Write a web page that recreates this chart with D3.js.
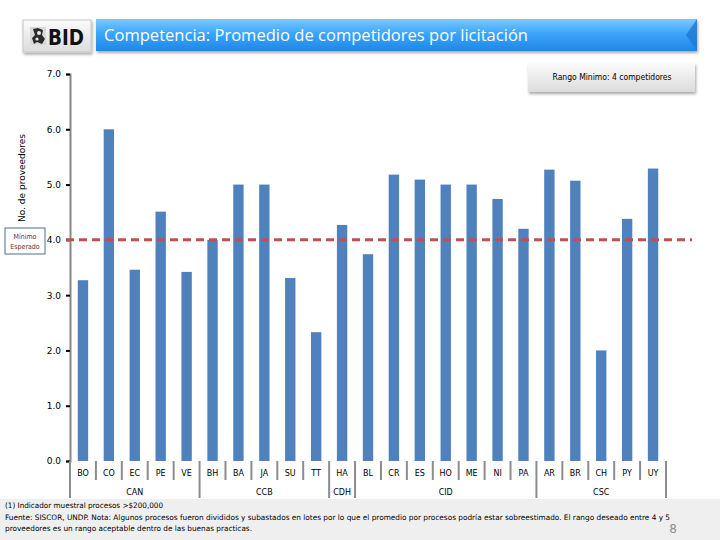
<!DOCTYPE html>
<html>
<head>
<meta charset="utf-8">
<script src="https://cdnjs.cloudflare.com/ajax/libs/d3/7.8.5/d3.min.js"></script>
<style>
  body { margin: 0; background: #fff; }
  svg { display: block; }
</style>
</head>
<body>
<div class="chart"></div>
<script>
// data
var countries = ["BO","CO","EC","PE","VE","BH","BA","JA","SU","TT","HA","BL","CR","ES","HO","ME","NI","PA","AR","BR","CH","PY","UY"]
var competitors = [3.27,6.0,3.46,4.51,3.42,4.0,5.0,5.0,3.31,2.33,4.27,3.74,5.18,5.09,5.0,5.0,4.74,4.2,5.27,5.07,2.0,4.38,5.29]
var groupNames = ["CAN","CCB","CDH","CID","CSC"]
var groupSizes = [5,5,1,7,5]
var yTicks = [0,1,2,3,4,5,6,7]
var minimumExpected = 4

var width = 720, height = 540

var svg = d3.select(".chart").append("svg")
  .attr("width", width)
  .attr("height", height)

var defs = svg.append("defs")

var blueGrad = defs.append("linearGradient")
  .attr("id", "blueGrad")
  .attr("x1", 0).attr("y1", 0).attr("x2", 0).attr("y2", 1)
blueGrad.append("stop").attr("offset", "0%").attr("stop-color", "#7cc8ff")
blueGrad.append("stop").attr("offset", "45%").attr("stop-color", "#3aa6fb")
blueGrad.append("stop").attr("offset", "100%").attr("stop-color", "#2186e6")

var greyGrad = defs.append("linearGradient")
  .attr("id", "greyGrad")
  .attr("x1", 0).attr("y1", 0).attr("x2", 0).attr("y2", 1)
greyGrad.append("stop").attr("offset", "0%").attr("stop-color", "#fbfbfb")
greyGrad.append("stop").attr("offset", "100%").attr("stop-color", "#dcdcdc")

var shadow = defs.append("filter")
  .attr("id", "shadow")
  .attr("x", "-10%").attr("y", "-20%").attr("width", "120%").attr("height", "160%")
shadow.append("feDropShadow")
  .attr("dx", 1).attr("dy", 2).attr("stdDeviation", 1.5)
  .attr("flood-color", "#000").attr("flood-opacity", 0.35)

// *********** HEADER ***************** //
svg.append("rect")
  .attr("x", 23).attr("y", 20)
  .attr("width", 68).attr("height", 32)
  .attr("fill", "url(#greyGrad)")
  .attr("stroke", "#c8c8c8")
  .attr("filter", "url(#shadow)")

// little emblem next to the BID letters
var logo = svg.append("g").attr("transform", "translate(30,27)")
logo.append("rect").attr("width", 16).attr("height", 18).attr("fill", "#d9d9d9")
logo.append("path")
  .attr("d", "M3,2 L8,1 L13,3 L12,8 L15,12 L12,17 L7,15 L4,17 L2,11 L5,8 Z")
  .attr("fill", "#2b2b2b")
logo.append("circle").attr("cx", 9).attr("cy", 6).attr("r", 2).attr("fill", "#e8e8e8")
logo.append("circle").attr("cx", 7).attr("cy", 12).attr("r", 1.6).attr("fill", "#e8e8e8")

svg.append("text")
  .attr("x", 48)
  .attr("y", 45)
  .attr("textLength", 36)
  .attr("lengthAdjust", "spacingAndGlyphs")
  .style("font-family", "DejaVu Sans, sans-serif")
  .style("font-weight", "bold")
  .style("font-size", 21)
  .style("fill", "#111")
  .text("BID")

svg.append("path")
  .attr("d", "M96,19 H697 V51 H96 Z")
  .attr("fill", "url(#blueGrad)")
  .attr("filter", "url(#shadow)")

// bevel on the right end of the bar
svg.append("path")
  .attr("d", "M697,19 L686,35 L697,51 Z")
  .attr("fill", "#1f78d1")
  .attr("opacity", 0.8)

svg.append("text")
  .attr("x", 104)
  .attr("y", 41)
  .attr("textLength", 424)
  .attr("lengthAdjust", "spacingAndGlyphs")
  .style("font-family", "Open Sans, sans-serif")
  .style("font-size", 17)
  .style("fill", "#fff")
  .text("Competencia: Promedio de competidores por licitación")
// *********** END HEADER ************* //

// *********** CHART ***************** //
var x = d3.scaleBand()
  .domain(countries)
  .range([70, 666])
  .paddingInner(0.6)
  .paddingOuter(0.3)

var y = d3.scaleLinear()
  .domain([0, 7])
  .range([461, 74])

var yAxis = svg.append("g")
  .attr("transform", "translate(70,0)")
  .call(d3.axisLeft(y).tickValues(yTicks).tickFormat(d3.format(".1f")).tickSize(4).tickPadding(5))

yAxis.select(".domain").attr("stroke", "#868686").attr("stroke-width", 2)
yAxis.selectAll(".tick line").attr("stroke", "#000").attr("stroke-width", 2)
yAxis.selectAll(".tick text")
  .style("font-family", "DejaVu Sans, sans-serif")
  .style("font-size", 9)
  .style("fill", "#000")

svg.append("text")
  .attr("transform", "translate(25,178) rotate(-90)")
  .attr("text-anchor", "middle")
  .style("font-family", "DejaVu Sans, sans-serif")
  .style("font-size", 9)
  .text("No. de proveedores")

svg.selectAll(".bar")
  .data(competitors)
  .enter().append("rect")
  .attr("class", "bar")
  .attr("x", function(d, i) { return x(countries[i]) })
  .attr("y", function(d) { return y(d) })
  .attr("width", x.bandwidth())
  .attr("height", function(d) { return y(0) - y(d) })
  .attr("fill", "#4f81bd")

// reference line at the expected minimum
svg.append("line")
  .attr("x1", 66)
  .attr("x2", 692)
  .attr("y1", y(minimumExpected))
  .attr("y2", y(minimumExpected))
  .attr("stroke", "#c0504d")
  .attr("stroke-width", 3)
  .attr("stroke-dasharray", "8,5")

// category labels and separators
var step = x.step()
var x0 = x.range()[0]

svg.selectAll(".cat-label")
  .data(countries)
  .enter().append("text")
  .attr("class", "cat-label")
  .attr("x", function(d) { return x(d) + x.bandwidth() / 2 })
  .attr("y", 476)
  .attr("text-anchor", "middle")
  .style("font-family", "DejaVu Sans, sans-serif")
  .style("font-size", 8)
  .text(function(d) { return d })

var groupStarts = []
var acc = 0
groupSizes.forEach(function(n) { groupStarts.push(acc); acc += n })
var groupEdges = groupStarts.concat([countries.length])

svg.selectAll(".cat-sep")
  .data(d3.range(countries.length + 1))
  .enter().append("line")
  .attr("class", "cat-sep")
  .attr("x1", function(i) { return x0 + i * step })
  .attr("x2", function(i) { return x0 + i * step })
  .attr("y1", 461)
  .attr("y2", function(i) { return groupEdges.indexOf(i) >= 0 ? 498 : 480 })
  .attr("stroke", "#8c8c8c")
  .attr("stroke-width", 2)

svg.selectAll(".group-label")
  .data(groupNames)
  .enter().append("text")
  .attr("class", "group-label")
  .attr("x", function(d, i) { return x0 + (groupStarts[i] + groupSizes[i] / 2) * step })
  .attr("y", 495)
  .attr("text-anchor", "middle")
  .style("font-family", "DejaVu Sans, sans-serif")
  .style("font-size", 8)
  .text(function(d) { return d })
// *********** END CHART ************* //

// *********** CALLOUTS ***************** //
svg.append("rect")
  .attr("x", 528).attr("y", 63)
  .attr("width", 167).attr("height", 29)
  .attr("fill", "url(#greyGrad)")
  .attr("filter", "url(#shadow)")

svg.append("text")
  .attr("x", 612)
  .attr("y", 80)
  .attr("text-anchor", "middle")
  .style("font-family", "DejaVu Sans Condensed, DejaVu Sans, sans-serif")
  .style("font-size", 8.5)
  .text("Rango Minimo: 4 competidores")

svg.append("rect")
  .attr("x", 5).attr("y", 228)
  .attr("width", 40).attr("height", 26)
  .attr("fill", "#fff")
  .attr("stroke", "#4f6f8f")
  .attr("stroke-width", 1)

svg.append("text")
  .attr("x", 25).attr("y", 239)
  .attr("text-anchor", "middle")
  .style("font-family", "DejaVu Sans Condensed, DejaVu Sans, sans-serif")
  .style("font-size", 7)
  .style("fill", "#7b1c1c")
  .text("Mínimo")

svg.append("text")
  .attr("x", 25).attr("y", 249)
  .attr("text-anchor", "middle")
  .style("font-family", "DejaVu Sans Condensed, DejaVu Sans, sans-serif")
  .style("font-size", 7)
  .style("fill", "#7b1c1c")
  .text("Esperado")
// *********** END CALLOUTS ************* //

// *********** FOOTER ***************** //
svg.insert("rect", ":first-child")
  .attr("x", 0).attr("y", 499)
  .attr("width", width).attr("height", 41)
  .attr("fill", "#efefef")

var notes = [
  ["(1) Indicador muestral procesos >$200,000", 158],
  ["Fuente: SISCOR, UNDP. Nota: Algunos procesos fueron divididos y subastados en lotes por lo que el promedio por procesos podría estar sobreestimado. El rango deseado entre 4 y 5", 665],
  ["proveedores es un rango aceptable dentro de las buenas practicas.", 247]
]

svg.selectAll(".note")
  .data(notes)
  .enter().append("text")
  .attr("class", "note")
  .attr("x", 5)
  .attr("y", function(d, i) { return 508 + i * 11.5 })
  .attr("textLength", function(d) { return d[1] })
  .attr("lengthAdjust", "spacingAndGlyphs")
  .style("font-family", "DejaVu Sans Condensed, DejaVu Sans, sans-serif")
  .style("font-size", 7.5)
  .text(function(d) { return d[0] })

svg.append("text")
  .attr("x", 673)
  .attr("y", 533)
  .attr("text-anchor", "middle")
  .style("font-family", "DejaVu Sans, sans-serif")
  .style("font-size", 12)
  .style("fill", "#8c8c8c")
  .text("8")
// *********** END FOOTER ************* //
</script>
</body>
</html>
